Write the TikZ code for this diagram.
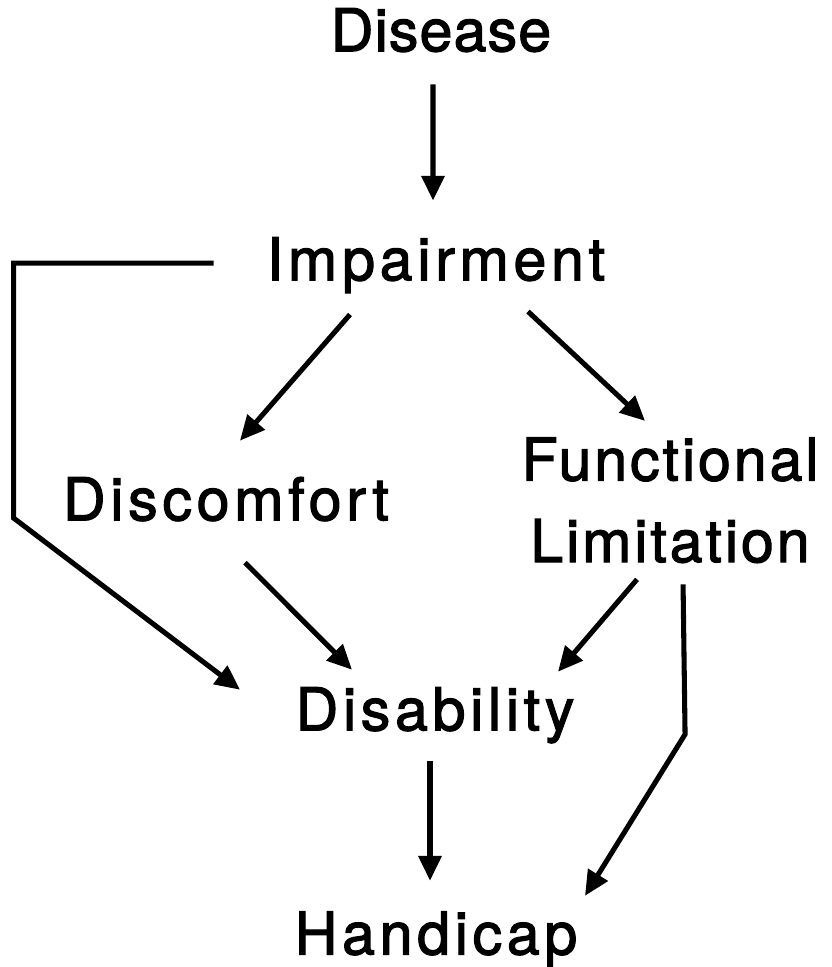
\documentclass[tikz,border=0pt]{standalone}
\usepackage{fontspec}
\setmainfont{TeX Gyre Heros}
\usepackage{tikz}
\usetikzlibrary{arrows.meta}
\newcommand{\termfont}[1]{\fontsize{42}{58}\selectfont\addfontfeature{LetterSpace=#1,FakeBold=2}}
\tikzstyle{term} = [inner sep=0pt, text height=30.1pt, text depth=0pt, font=\termfont{8}]
\tikzstyle{arrow} = [line width=3.6pt, -{Triangle[length=0.62cm, width=0.56cm]}]

\begin{document}
\begin{tikzpicture}[x=0.025cm, y=-0.025cm, node distance=5.725cm]
\useasboundingbox (0,0) rectangle (832,967);

\node (dis) [term, font=\termfont{2}] at (441,30) {Disease};
\node (imp) [term, below of=dis, xshift=-0.125cm] {Impairment};
\node (disc) [term, below of=imp, xshift=-5.25cm, yshift=-0.275cm] {Discomfort};
\node (func) [term, font=\termfont{5}, below of=imp, xshift=5.85cm, yshift=-0.3cm, align=center, text height=88.1pt] {Functional\\Limitation};
\node (disab) [term, below of=imp, xshift=-0.025cm, yshift=-5.525cm] {Disability};
\node (hand) [term, below of=disab, xshift=0.025cm, yshift=0.125cm] {Handicap};

\draw [arrow] ([shift={(-8,33)}]dis.south) -- ([shift={(-3,-37)}]imp.north);
\draw [arrow] ([shift={(-86,34)}]imp.south) -- ([shift={(14,-37)}]disc.north);
\draw [arrow] ([shift={(92,31)}]imp.south) -- ([shift={(-25,-17)}]func.north);
\draw [arrow] ([shift={(19,42)}]disc.south) -- ([shift={(-83,-18)}]disab.north);
\draw [arrow] ([shift={(-33,17)}]func.south) -- ([shift={(123,-16)}]disab.north);
\draw [arrow] ([shift={(-5,30)}]disab.south) -- ([shift={(-6,-31)}]hand.north);
% side paths
\draw [arrow] ([shift={(-53,4)}]imp.west) -- ++(-200,0) -- ++(0,255) -- ([shift={(-195,2)}]disab.north);
\draw [arrow] ([shift={(13,22)}]func.south) -- ++(2,150) -- ([shift={(149,-16)}]hand.north);

\end{tikzpicture}
\end{document}
